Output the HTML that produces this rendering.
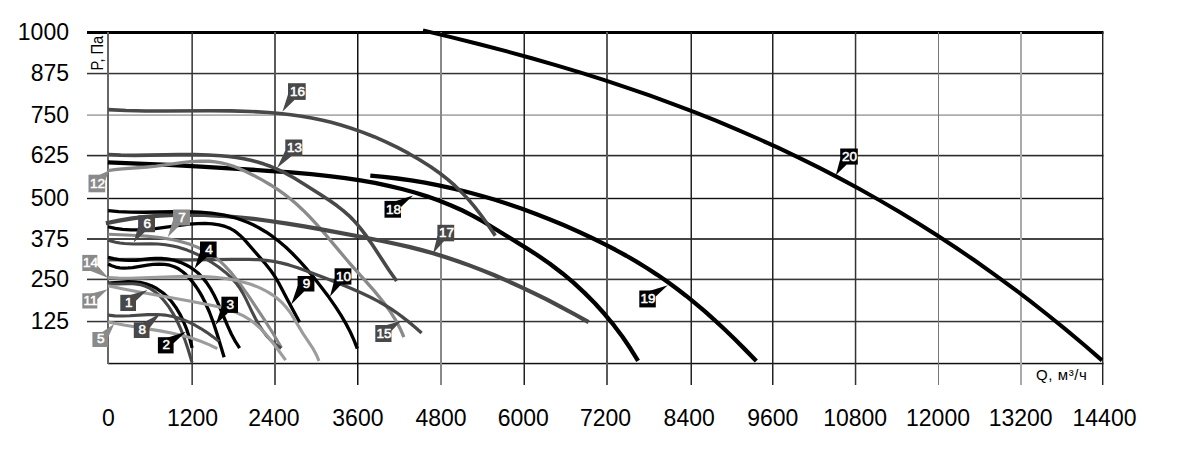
<!DOCTYPE html>
<html><head><meta charset="utf-8"><style>
html,body{margin:0;padding:0;background:#fff;overflow:hidden;width:1200px;height:459px;}
svg{display:block;font-family:"Liberation Sans",sans-serif;}
</style></head><body>
<svg width="1200" height="459" viewBox="0 0 1200 459">
<rect width="1200" height="459" fill="#fff"/>
<rect x="87" y="31" width="1016.5" height="3" fill="#000"/>
<rect x="87" y="72.8" width="1016.5" height="1.5" fill="#333"/>
<rect x="87" y="114.4" width="1016.5" height="1.4" fill="#999"/>
<rect x="87" y="154.8" width="1016.5" height="1.6" fill="#2a2a2a"/>
<rect x="87" y="197.8" width="1016.5" height="1.4" fill="#111"/>
<rect x="87" y="238" width="1016.5" height="2" fill="#444"/>
<rect x="87" y="278.6" width="1016.5" height="1.6" fill="#383838"/>
<rect x="87" y="320.8" width="1016.5" height="1.5" fill="#333"/>
<rect x="108" y="362.8" width="995.5" height="1.5" fill="#111"/>
<rect x="107" y="32" width="2" height="332" fill="#666"/>
<rect x="191.4" y="32" width="1.5" height="353" fill="#333"/>
<rect x="274" y="32" width="2" height="353" fill="#5a5a5a"/>
<rect x="357" y="32" width="1.5" height="353" fill="#111"/>
<rect x="440" y="32" width="2" height="353" fill="#888"/>
<rect x="523.5" y="32" width="1.5" height="353" fill="#222"/>
<rect x="606" y="32" width="2" height="353" fill="#5a5a5a"/>
<rect x="690.5" y="32" width="1.5" height="353" fill="#222"/>
<rect x="772" y="32" width="1.5" height="353" fill="#222"/>
<rect x="854.8" y="32" width="1.5" height="353" fill="#333"/>
<rect x="938" y="32" width="1" height="353" fill="#777"/>
<rect x="1020" y="32" width="2" height="353" fill="#aaa"/>
<rect x="1102" y="32" width="1.4" height="353" fill="#222"/>
<path d="M423.00,30.38 L452.00,37.35 L479.50,44.25 L506.00,51.19 L531.75,58.26 L556.50,65.37 L580.75,72.67 L604.50,80.17 L627.50,87.78 L650.25,95.67 L672.50,103.76 L694.50,112.14 L716.00,120.71 L737.25,129.57 L758.25,138.73 L779.00,148.19 L799.25,157.83 L819.50,167.88 L839.75,178.37 L859.50,189.03 L879.25,200.13 L898.75,211.54 L918.00,223.26 L937.00,235.27 L956.00,247.74 L974.75,260.52 L993.50,273.76 L1012.00,287.31 L1030.25,301.15 L1048.50,315.48 L1066.50,330.09 L1084.25,344.99 L1102.00,360.37" fill="none" stroke="#000" stroke-width="4.0" stroke-linecap="butt" stroke-linejoin="round"/>
<path d="M370.29,175.71 L383.85,176.92 L397.51,178.50 L411.25,180.44 L424.93,182.73 L438.69,185.38 L452.53,188.39 L466.43,191.77 L480.24,195.48 L494.12,199.55 L508.04,203.98 L522.01,208.76 L536.00,213.91 L550.03,219.41 L564.07,225.27 L578.12,231.48 L592.04,237.98 L603.98,243.86 L615.39,249.78 L626.27,255.75 L636.87,261.91 L647.18,268.24 L657.32,274.84 L667.04,281.53 L676.58,288.48 L685.94,295.68 L695.34,303.31 L704.91,311.46 L714.63,320.12 L724.50,329.29 L734.62,339.06 L745.20,349.63 L756.33,361.09" fill="none" stroke="#000" stroke-width="4.3" stroke-linecap="butt" stroke-linejoin="round"/>
<path d="M107.96,162.42 L137.97,163.56 L168.70,164.96 L200.55,166.62 L233.59,168.57 L267.85,170.78 L291.04,172.46 L311.24,174.20 L329.21,176.08 L345.35,178.12 L360.43,180.39 L374.86,182.95 L388.62,185.80 L401.91,188.98 L414.72,192.50 L427.03,196.34 L438.81,200.50 L450.59,205.19 L461.98,210.28 L472.94,215.80 L483.47,221.71 L526.80,248.38 L536.81,254.73 L549.83,263.71 L562.57,273.46 L573.78,282.91 L584.56,292.87 L594.88,303.31 L604.58,314.06 L613.79,325.23 L622.48,336.81 L630.61,348.77 L638.08,360.91" fill="none" stroke="#000" stroke-width="4.3" stroke-linecap="butt" stroke-linejoin="round"/>
<path d="M108.16,109.66 L126.01,110.51 L146.09,110.93 L165.11,110.98 L209.72,110.73 L231.36,110.90 L250.81,111.49 L268.47,112.53 L279.97,113.54 L290.85,114.77 L301.42,116.27 L311.65,118.04 L321.42,120.04 L331.14,122.36 L340.80,125.00 L350.39,127.95 L362.32,132.09 L374.09,136.70 L385.81,141.81 L397.31,147.37 L408.71,153.43 L419.95,159.99 L430.65,166.81 L440.17,173.51 L447.64,179.35 L454.68,185.46 L461.40,191.94 L467.89,198.88 L474.24,206.39 L480.74,214.77 L487.57,224.24 L495.30,235.62" fill="none" stroke="#484848" stroke-width="3.6" stroke-linecap="butt" stroke-linejoin="round"/>
<path d="M108.38,154.53 L120.64,155.14 L134.54,155.34 L179.21,154.63 L194.60,154.60 L208.33,154.96 L220.71,155.75 L228.75,156.56 L236.40,157.59 L243.64,158.84 L250.70,160.34 L257.48,162.08 L264.06,164.08 L270.35,166.32 L276.45,168.82 L284.89,172.87 L294.15,178.00 L303.85,183.92 L320.81,194.79 L329.96,200.80 L337.07,205.83 L343.19,210.59 L348.59,215.32 L352.68,219.35 L356.79,223.86 L360.91,228.84 L365.12,234.38 L372.36,244.79 L389.03,270.20 L396.62,280.97" fill="none" stroke="#484848" stroke-width="3.6" stroke-linecap="butt" stroke-linejoin="round"/>
<path d="M107.98,170.59 L114.75,169.60 L122.38,168.78 L147.17,166.98 L156.09,166.16 L182.00,162.67 L190.69,161.69 L200.43,161.10 L209.11,161.25 L215.28,161.84 L221.38,162.85 L227.16,164.24 L232.99,166.08 L239.07,168.44 L245.76,171.46 L254.17,175.67 L262.45,180.15 L270.25,184.73 L277.52,189.40 L284.24,194.13 L290.51,198.99 L296.71,204.29 L303.02,210.17 L309.44,216.65 L316.16,223.90 L325.37,234.45 L348.63,262.05 L373.64,290.11 L382.98,301.50 L389.67,310.68 L395.30,319.57 L399.99,328.38 L401.99,332.73 L403.81,337.22" fill="none" stroke="#8a8a8a" stroke-width="3.3" stroke-linecap="butt" stroke-linejoin="round"/>
<path d="M105.86,223.29 L119.02,220.61 L132.36,218.44 L146.03,216.77 L160.03,215.58 L174.36,214.89 L189.03,214.70 L204.19,214.99 L219.84,215.78 L235.14,216.97 L251.10,218.62 L267.87,220.73 L285.79,223.36 L304.33,226.39 L325.32,230.12 L362.05,237.04 L383.37,241.24 L397.40,244.22 L410.07,247.16 L421.70,250.12 L433.10,253.32 L445.07,256.99 L457.13,261.00 L469.41,265.39 L481.77,270.11 L494.51,275.28 L507.44,280.84 L520.58,286.79 L533.75,293.06 L547.09,299.70 L560.75,306.79 L574.55,314.24 L588.63,322.13" fill="none" stroke="#484848" stroke-width="4.2" stroke-linecap="butt" stroke-linejoin="round"/>
<path d="M108.14,210.73 L118.74,211.67 L130.32,212.17 L144.03,212.26 L173.49,211.76 L186.49,211.74 L199.91,212.17 L211.57,213.15 L218.26,214.05 L224.58,215.19 L230.52,216.55 L236.38,218.20 L242.23,220.19 L248.07,222.51 L253.68,225.08 L259.25,227.98 L265.97,231.98 L272.52,236.44 L279.08,241.47 L285.62,247.07 L292.15,253.23 L298.79,260.08 L305.54,267.60 L312.59,276.01 L320.99,286.66 L328.80,297.10 L335.28,306.35 L340.92,315.10 L345.91,323.62 L350.29,332.02 L354.07,340.31 L357.33,348.67" fill="none" stroke="#000" stroke-width="3.3" stroke-linecap="butt" stroke-linejoin="round"/>
<path d="M107.99,226.74 L115.18,228.36 L122.74,229.42 L130.72,229.94 L139.27,229.91 L146.93,229.47 L155.45,228.65 L181.11,225.15 L189.28,224.20 L197.51,223.60 L205.00,223.47 L212.46,223.88 L219.12,224.86 L225.10,226.43 L227.83,227.44 L230.39,228.60 L233.63,230.43 L236.86,232.70 L240.08,235.41 L243.42,238.67 L246.78,242.34 L264.38,262.59 L270.95,270.76 L274.79,276.37 L278.71,283.00 L288.42,301.59 L299.61,322.33" fill="none" stroke="#000" stroke-width="3.3" stroke-linecap="butt" stroke-linejoin="round"/>
<path d="M107.97,259.74 L133.60,259.48 L190.45,259.79 L233.52,259.31 L248.54,259.34 L257.94,259.68 L266.17,260.35 L273.54,261.37 L280.82,262.84 L288.86,264.96 L297.76,267.79 L307.32,271.22 L323.82,277.50 L338.51,283.26 L350.72,288.30 L361.54,293.06 L370.98,297.55 L377.91,301.14 L384.31,304.74 L390.31,308.41 L396.07,312.28 L401.96,316.58 L408.08,321.38 L414.51,326.77 L421.60,333.01" fill="none" stroke="#484848" stroke-width="3.3" stroke-linecap="butt" stroke-linejoin="round"/>
<path d="M108.25,234.28 L131.89,235.22 L146.37,236.15 L159.75,237.57 L171.68,239.51 L177.46,240.76 L183.02,242.19 L188.32,243.80 L193.31,245.57 L198.05,247.51 L202.59,249.64 L206.95,251.99 L211.03,254.50 L214.57,256.95 L217.92,259.55 L221.28,262.44 L224.62,265.62 L231.38,272.91 L238.41,281.67 L247.51,294.43 L263.66,318.58 L273.24,333.75 L281.44,347.74" fill="none" stroke="#8a8a8a" stroke-width="3.1" stroke-linecap="butt" stroke-linejoin="round"/>
<path d="M107.80,239.99 L111.65,241.23 L115.66,242.22 L119.91,242.98 L124.39,243.51 L133.33,243.96 L150.86,243.89 L158.09,244.07 L165.51,244.71 L172.81,245.95 L177.54,247.08 L182.30,248.46 L187.08,250.09 L191.87,251.97 L196.64,254.08 L201.40,256.43 L206.12,259.00 L210.84,261.83 L218.57,267.01 L225.25,272.19 L230.99,277.45 L235.94,282.92 L239.53,287.76 L242.96,293.40 L246.11,299.39 L252.41,312.55 L255.57,318.79 L259.05,324.98 L262.50,330.36 L266.75,335.94 L271.25,340.75 L276.04,344.84 L281.23,348.32" fill="none" stroke="#484848" stroke-width="3.1" stroke-linecap="butt" stroke-linejoin="round"/>
<path d="M108.00,257.25 L113.74,258.58 L119.07,259.55 L124.10,260.17 L128.95,260.47 L132.74,260.46 L136.65,260.24 L150.30,258.72 L155.63,258.31 L161.08,258.31 L166.57,258.80 L170.09,259.38 L173.57,260.17 L176.99,261.15 L180.33,262.32 L183.59,263.68 L186.70,265.20 L189.76,266.92 L192.64,268.78 L197.73,272.77 L202.36,277.39 L206.72,282.86 L210.85,289.20 L214.16,295.20 L217.50,302.12 L227.52,325.65 L231.32,333.94 L235.45,341.69 L239.65,348.14" fill="none" stroke="#000" stroke-width="3.3" stroke-linecap="butt" stroke-linejoin="round"/>
<path d="M108.07,263.94 L111.73,265.74 L115.61,267.02 L119.76,267.80 L124.25,268.07 L128.14,267.95 L132.48,267.52 L147.32,265.13 L153.08,264.42 L159.11,264.12 L164.57,264.38 L169.71,265.24 L174.32,266.72 L178.53,268.84 L182.66,271.74 L185.62,274.32 L188.60,277.35 L191.67,280.87 L194.64,284.69 L197.41,288.67 L200.05,292.90 L202.60,297.42 L205.04,302.22 L209.38,312.01 L213.56,323.19 L217.40,334.97 L224.12,357.27" fill="none" stroke="#000" stroke-width="3.3" stroke-linecap="butt" stroke-linejoin="round"/>
<path d="M108.12,277.65 L118.56,278.12 L130.06,278.21 L143.28,277.91 L171.51,276.76 L183.71,276.41 L196.65,276.37 L208.20,276.78 L215.08,277.28 L221.60,277.97 L227.94,278.86 L234.00,279.93 L239.86,281.21 L245.42,282.67 L250.74,284.33 L255.78,286.18 L260.40,288.14 L264.75,290.27 L268.87,292.59 L272.77,295.11 L276.44,297.81 L279.87,300.70 L283.00,303.72 L285.94,306.97 L288.89,310.74 L291.97,315.23 L303.04,333.59 L313.05,348.70 L316.48,355.01 L317.78,358.00 L318.89,361.07" fill="none" stroke="#9c9c9c" stroke-width="3.1" stroke-linecap="butt" stroke-linejoin="round"/>
<path d="M107.96,283.20 L121.62,282.09 L128.12,281.76 L134.49,281.85 L140.10,282.45 L145.85,283.78 L151.42,285.83 L156.75,288.59 L161.84,292.04 L164.42,294.15 L166.88,296.42 L171.52,301.51 L175.88,307.44 L179.87,314.10 L183.54,321.56 L186.84,329.75 L189.71,338.55 L192.12,347.81" fill="none" stroke="#000" stroke-width="3.3" stroke-linecap="butt" stroke-linejoin="round"/>
<path d="M107.98,283.30 L111.35,283.77 L115.28,283.98 L128.22,283.71 L132.90,283.78 L137.08,284.13 L140.77,284.77 L145.47,286.24 L150.03,288.42 L154.49,291.35 L158.85,295.03 L163.75,300.21 L168.53,306.40 L172.95,313.31 L177.09,321.01 L180.86,329.33 L184.47,338.62 L187.99,349.07 L191.98,362.34" fill="none" stroke="#484848" stroke-width="3.1" stroke-linecap="butt" stroke-linejoin="round"/>
<path d="M108.04,285.70 L120.93,288.52 L135.20,291.34 L188.10,300.72 L210.05,304.97 L218.12,306.77 L224.84,308.53 L230.83,310.43 L236.35,312.54 L243.03,315.68 L249.12,319.26 L254.62,323.26 L259.95,327.97 L265.06,333.30 L270.39,339.62 L275.66,346.50 L285.62,360.14" fill="none" stroke="#9c9c9c" stroke-width="3.1" stroke-linecap="butt" stroke-linejoin="round"/>
<path d="M108.03,315.16 L114.86,315.87 L122.57,316.03 L129.97,315.76 L147.75,314.67 L156.62,314.53 L160.97,314.72 L165.01,315.09 L168.83,315.66 L172.70,316.47 L178.17,317.98 L183.70,319.94 L189.35,322.36 L195.05,325.23 L200.86,328.57 L206.77,332.36 L212.80,336.64 L218.95,341.39" fill="none" stroke="#484848" stroke-width="3.1" stroke-linecap="butt" stroke-linejoin="round"/>
<path d="M108.12,321.96 L123.83,324.95 L161.55,331.12 L171.33,333.02 L180.07,334.99 L190.54,337.83 L200.11,341.01 L209.03,344.61 L217.33,348.64" fill="none" stroke="#9c9c9c" stroke-width="3.1" stroke-linecap="butt" stroke-linejoin="round"/>
<path d="M846.7,164.6 L840.2,159.1 L835.8,175.3 Z" fill="#000"/>
<rect x="840.2" y="148.5" width="17.6" height="16.1" fill="#000"/>
<text x="849.6" y="160.6" font-size="13.5" font-weight="normal" fill="#fff" stroke="#fff" stroke-width="0.55" text-anchor="middle">20</text>
<path d="M649.3,291.0 L655.8,296.5 L667.8,285.2 Z" fill="#000"/>
<rect x="639.3" y="290.5" width="16.5" height="16.9" fill="#000"/>
<text x="648.1" y="303.4" font-size="13.5" font-weight="normal" fill="#fff" stroke="#fff" stroke-width="0.55" text-anchor="middle">19</text>
<path d="M394.5,201.4 L401.0,206.9 L413.0,195.5 Z" fill="#000"/>
<rect x="384.5" y="200.9" width="16.5" height="16.8" fill="#000"/>
<text x="393.4" y="213.7" font-size="13.5" font-weight="normal" fill="#fff" stroke="#fff" stroke-width="0.55" text-anchor="middle">18</text>
<path d="M443.9,241.3 L437.4,235.8 L433.0,253.5 Z" fill="#484848"/>
<rect x="437.4" y="224.8" width="16.8" height="16.5" fill="#484848"/>
<text x="446.4" y="237.3" font-size="13.5" font-weight="normal" fill="#fff" stroke="#fff" stroke-width="0.55" text-anchor="middle">17</text>
<path d="M294.5,99.9 L288.0,94.4 L282.4,111.8 Z" fill="#484848"/>
<rect x="288.0" y="83.2" width="17.7" height="16.7" fill="#484848"/>
<text x="297.5" y="95.9" font-size="13.5" font-weight="normal" fill="#fff" stroke="#fff" stroke-width="0.55" text-anchor="middle">16</text>
<path d="M291.8,156.0 L285.3,150.5 L277.0,168.0 Z" fill="#484848"/>
<rect x="285.3" y="139.5" width="17.0" height="16.5" fill="#484848"/>
<text x="294.4" y="152.0" font-size="13.5" font-weight="normal" fill="#fff" stroke="#fff" stroke-width="0.55" text-anchor="middle">13</text>
<path d="M98.7,175.2 L105.2,180.7 L109.0,170.5 Z" fill="#8a8a8a"/>
<rect x="88.5" y="174.7" width="16.7" height="17.6" fill="#8a8a8a"/>
<text x="97.4" y="188.3" font-size="13.5" font-weight="normal" fill="#fff" stroke="#fff" stroke-width="0.55" text-anchor="middle">12</text>
<path d="M341.1,284.6 L334.6,279.1 L330.0,296.5 Z" fill="#000"/>
<rect x="334.6" y="268.3" width="16.8" height="16.3" fill="#000"/>
<text x="343.6" y="280.6" font-size="13.5" font-weight="normal" fill="#fff" stroke="#fff" stroke-width="0.55" text-anchor="middle">10</text>
<path d="M304.1,291.5 L297.6,286.0 L291.2,304.4 Z" fill="#000"/>
<rect x="297.6" y="276.0" width="16.8" height="15.5" fill="#000"/>
<text x="306.6" y="287.5" font-size="13.5" font-weight="normal" fill="#fff" stroke="#fff" stroke-width="0.55" text-anchor="middle">9</text>
<path d="M385.0,325.5 L391.5,331.0 L401.0,321.0 Z" fill="#484848"/>
<rect x="375.3" y="325.0" width="16.2" height="17.0" fill="#484848"/>
<text x="384.0" y="338.0" font-size="13.5" font-weight="normal" fill="#fff" stroke="#fff" stroke-width="0.55" text-anchor="middle">15</text>
<path d="M179.5,225.5 L173.0,220.0 L167.7,237.2 Z" fill="#8a8a8a"/>
<rect x="173.0" y="209.5" width="17.0" height="16.0" fill="#8a8a8a"/>
<text x="182.1" y="221.5" font-size="13.5" font-weight="normal" fill="#fff" stroke="#fff" stroke-width="0.55" text-anchor="middle">7</text>
<path d="M144.6,232.2 L138.1,226.7 L133.7,242.4 Z" fill="#484848"/>
<rect x="138.1" y="215.3" width="16.9" height="16.9" fill="#484848"/>
<text x="147.2" y="228.2" font-size="13.5" font-weight="normal" fill="#fff" stroke="#fff" stroke-width="0.55" text-anchor="middle">6</text>
<path d="M206.5,257.6 L200.0,252.1 L194.6,268.5 Z" fill="#000"/>
<rect x="200.0" y="241.5" width="16.6" height="16.1" fill="#000"/>
<text x="208.9" y="253.6" font-size="13.5" font-weight="normal" fill="#fff" stroke="#fff" stroke-width="0.55" text-anchor="middle">4</text>
<path d="M227.9,312.9 L221.4,307.4 L215.5,325.0 Z" fill="#000"/>
<rect x="221.4" y="296.7" width="16.6" height="16.2" fill="#000"/>
<text x="230.3" y="308.9" font-size="13.5" font-weight="normal" fill="#fff" stroke="#fff" stroke-width="0.55" text-anchor="middle">3</text>
<path d="M90.8,271.0 L97.3,265.5 L108.8,278.3 Z" fill="#8a8a8a"/>
<rect x="82.3" y="254.9" width="15.0" height="16.1" fill="#8a8a8a"/>
<text x="90.4" y="267.0" font-size="13.5" font-weight="normal" fill="#fff" stroke="#fff" stroke-width="0.55" text-anchor="middle">14</text>
<path d="M90.8,293.8 L97.3,299.3 L107.7,289.2 Z" fill="#8a8a8a"/>
<rect x="82.3" y="293.3" width="15.0" height="15.2" fill="#8a8a8a"/>
<text x="90.4" y="304.5" font-size="13.5" font-weight="normal" fill="#fff" stroke="#fff" stroke-width="0.55" text-anchor="middle">11</text>
<path d="M129.5,295.3 L136.0,300.8 L147.5,290.0 Z" fill="#484848"/>
<rect x="120.3" y="294.8" width="15.7" height="16.2" fill="#484848"/>
<text x="128.8" y="307.0" font-size="13.5" font-weight="normal" fill="#fff" stroke="#fff" stroke-width="0.55" text-anchor="middle">1</text>
<path d="M143.0,322.8 L149.5,328.3 L160.5,313.5 Z" fill="#484848"/>
<rect x="133.8" y="322.3" width="15.7" height="15.7" fill="#484848"/>
<text x="142.2" y="334.0" font-size="13.5" font-weight="normal" fill="#fff" stroke="#fff" stroke-width="0.55" text-anchor="middle">8</text>
<path d="M167.1,337.7 L173.6,343.2 L186.0,331.8 Z" fill="#000"/>
<rect x="157.9" y="337.2" width="15.7" height="16.2" fill="#000"/>
<text x="166.3" y="349.4" font-size="13.5" font-weight="normal" fill="#fff" stroke="#fff" stroke-width="0.55" text-anchor="middle">2</text>
<path d="M101.5,332.5 L108.0,338.0 L114.2,324.0 Z" fill="#8a8a8a"/>
<rect x="92.4" y="332.0" width="15.6" height="15.0" fill="#8a8a8a"/>
<text x="100.8" y="343.0" font-size="13.5" font-weight="normal" fill="#fff" stroke="#fff" stroke-width="0.55" text-anchor="middle">5</text>
<text x="69" y="40.0" font-size="23" text-anchor="end">1000</text>
<text x="69" y="80.5" font-size="23" text-anchor="end">875</text>
<text x="69" y="122.5" font-size="23" text-anchor="end">750</text>
<text x="69" y="163.0" font-size="23" text-anchor="end">625</text>
<text x="69" y="205.5" font-size="23" text-anchor="end">500</text>
<text x="69" y="246.5" font-size="23" text-anchor="end">375</text>
<text x="69" y="287.0" font-size="23" text-anchor="end">250</text>
<text x="69" y="329.0" font-size="23" text-anchor="end">125</text>
<text x="108.5" y="425.6" font-size="23" text-anchor="middle">0</text>
<text x="192.6" y="425.6" font-size="23" text-anchor="middle">1200</text>
<text x="273.9" y="425.6" font-size="23" text-anchor="middle">2400</text>
<text x="357.9" y="425.6" font-size="23" text-anchor="middle">3600</text>
<text x="441.1" y="425.6" font-size="23" text-anchor="middle">4800</text>
<text x="523.3" y="425.6" font-size="23" text-anchor="middle">6000</text>
<text x="605.5" y="425.6" font-size="23" text-anchor="middle">7200</text>
<text x="689.2" y="425.6" font-size="23" text-anchor="middle">8400</text>
<text x="772.8" y="425.6" font-size="23" text-anchor="middle">9600</text>
<text x="855.2" y="425.6" font-size="23" text-anchor="middle">10800</text>
<text x="938.0" y="425.6" font-size="23" text-anchor="middle">12000</text>
<text x="1020.7" y="425.6" font-size="23" text-anchor="middle">13200</text>
<text x="1104.5" y="425.6" font-size="23" text-anchor="middle">14400</text>
<text transform="translate(103,70.5) rotate(-90) scale(0.9,1)" font-size="16.3">P, Па</text>
<text x="1036" y="380" font-size="15" letter-spacing="0.6">Q, м³/ч</text>
</svg></body></html>
